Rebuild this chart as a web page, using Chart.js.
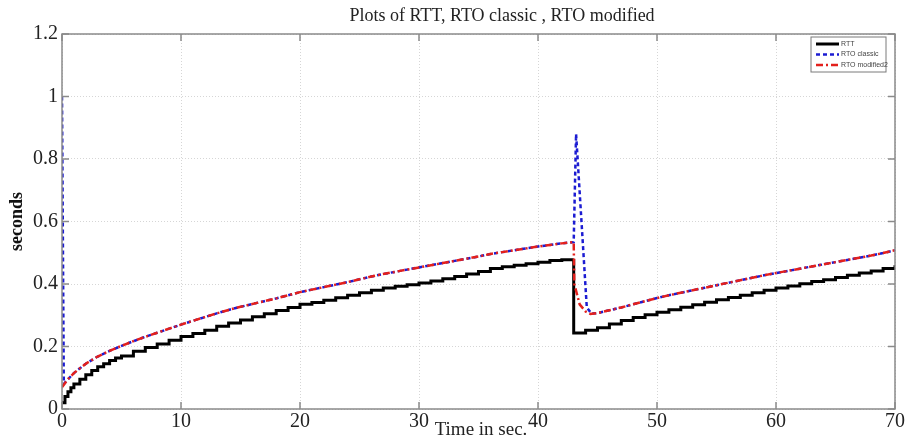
<!DOCTYPE html>
<html>
<head>
<meta charset="utf-8">
<title>RTT / RTO</title>
<script src="https://cdn.jsdelivr.net/npm/chart.js@4.4.1/dist/chart.umd.min.js"></script>
<style>
    html, body { margin: 0; padding: 0; background: #fff; }
    #zone { width: 908px; height: 442px; position: relative; }
</style>
</head>
<body>
<div id="zone"><canvas id="graphRto"></canvas></div>
<script>
// ==========================================
//  DONNÉES
// ==========================================
const tempsRtt = [0, 0.25, 0.5, 0.75, 1, 1.5, 2, 2.5, 3, 3.5, 4, 4.5, 5, 6, 7, 8, 9, 10, 11, 12,
    13, 14, 15, 16, 17, 18, 19, 20, 21, 22, 23, 24, 25, 26, 27, 28, 29, 30, 31, 32, 33, 34, 35, 36,
    37, 38, 39, 40, 41, 42, 43,
    43, 44, 45, 46, 47, 48, 49, 50, 51, 52, 53, 54, 55, 56, 57, 58, 59, 60, 61, 62, 63, 64, 65,
    66, 67, 68, 69, 70];
const rtt = [0.02, 0.04, 0.055, 0.068, 0.08, 0.095, 0.11, 0.123, 0.135, 0.145, 0.155, 0.163, 0.17,
    0.185, 0.197, 0.208, 0.22, 0.232, 0.242, 0.252, 0.265, 0.275, 0.285, 0.295, 0.305, 0.315, 0.325,
    0.335, 0.341, 0.348, 0.356, 0.364, 0.372, 0.38, 0.387, 0.393, 0.398, 0.403, 0.41, 0.417, 0.424,
    0.432, 0.44, 0.45, 0.455, 0.46, 0.465, 0.47, 0.475, 0.478, 0.48,
    0.243, 0.252, 0.26, 0.272, 0.283, 0.293, 0.302, 0.31, 0.318, 0.326, 0.334, 0.342, 0.35, 0.357,
    0.364, 0.372, 0.38, 0.387, 0.394, 0.401, 0.408, 0.414, 0.421, 0.428, 0.435, 0.442, 0.45, 0.46];

const tempsClassique = [0, 0.15, 0.5, 1, 2, 3, 4, 5, 6, 7, 8, 9, 10, 11, 12, 13, 14, 15, 16, 17,
    18, 19, 20, 21, 22, 23, 24, 25, 26, 27, 28, 29, 30, 31, 32, 33, 34, 35, 36, 37, 38, 39, 40, 41,
    42, 43, 43.2, 44.1, 44.5, 45, 46, 47, 48, 49, 50, 51, 52, 53, 54, 55, 56, 57, 58, 59, 60, 61,
    62, 63, 64, 65, 66, 67, 68, 69, 70];
const rtoClassique = [1.0, 0.08, 0.095, 0.115, 0.145, 0.168, 0.186, 0.202, 0.217, 0.231, 0.244,
    0.257, 0.27, 0.282, 0.294, 0.306, 0.317, 0.327, 0.336, 0.345, 0.354, 0.364, 0.374, 0.382, 0.39,
    0.398, 0.406, 0.415, 0.424, 0.432, 0.439, 0.446, 0.453, 0.46, 0.467, 0.474, 0.481, 0.488, 0.496,
    0.502, 0.508, 0.514, 0.52, 0.525, 0.53, 0.534, 0.88, 0.325, 0.305, 0.307, 0.316, 0.325, 0.335,
    0.345, 0.355, 0.364, 0.372, 0.38, 0.388, 0.396, 0.404, 0.412, 0.42, 0.428, 0.435, 0.442, 0.449,
    0.456, 0.463, 0.47, 0.477, 0.484, 0.491, 0.499, 0.508];

const tempsModifie = [0, 0.5, 1, 2, 3, 4, 5, 6, 7, 8, 9, 10, 11, 12, 13, 14, 15, 16, 17, 18, 19,
    20, 21, 22, 23, 24, 25, 26, 27, 28, 29, 30, 31, 32, 33, 34, 35, 36, 37, 38, 39, 40, 41, 42, 43,
    43.05, 43.5, 44, 44.4, 45, 46, 47, 48, 49, 50, 51, 52, 53, 54, 55, 56, 57, 58, 59, 60, 61, 62,
    63, 64, 65, 66, 67, 68, 69, 70];
const rtoModifie = [0.07, 0.095, 0.115, 0.145, 0.168, 0.186, 0.202, 0.217, 0.231, 0.244, 0.257,
    0.27, 0.282, 0.294, 0.306, 0.317, 0.327, 0.336, 0.345, 0.354, 0.364, 0.374, 0.382, 0.39, 0.398,
    0.406, 0.415, 0.424, 0.432, 0.439, 0.446, 0.453, 0.46, 0.467, 0.474, 0.481, 0.488, 0.496, 0.502,
    0.508, 0.514, 0.52, 0.525, 0.53, 0.534, 0.40, 0.335, 0.312, 0.304, 0.307, 0.316, 0.325, 0.335,
    0.345, 0.355, 0.364, 0.372, 0.38, 0.388, 0.396, 0.404, 0.412, 0.42, 0.428, 0.435, 0.442, 0.449,
    0.456, 0.463, 0.47, 0.477, 0.484, 0.491, 0.499, 0.508];

const graduationsX = [0, 10, 20, 30, 40, 50, 60, 70];
const graduationsY = [0, 0.2, 0.4, 0.6, 0.8, 1, 1.2];
const nomsSeries = ['RTT', 'RTO classic', 'RTO modified2'];

const enPoints = (xs, ys) => xs.map((t, i) => ({ x: t, y: ys[i] }));
const policeSerif = '"Liberation Serif", "DejaVu Serif", serif';

// ==========================================
//  CADRE, TITRES ET LÉGENDE (style MATLAB)
// ==========================================
const habillage = {
    id: 'habillage',
    afterDraw(chart) {
        const { ctx, chartArea: a, scales } = chart;
        ctx.save();

        // cadre complet + graduations vers l'intérieur
        ctx.strokeStyle = '#8a8a8a';
        ctx.lineWidth = 1.5;
        ctx.setLineDash([]);
        ctx.strokeRect(a.left, a.top, a.right - a.left, a.bottom - a.top);
        ctx.beginPath();
        graduationsX.forEach(v => {
            const px = scales.x.getPixelForValue(v);
            ctx.moveTo(px, a.bottom); ctx.lineTo(px, a.bottom - 7);
            ctx.moveTo(px, a.top); ctx.lineTo(px, a.top + 7);
        });
        graduationsY.forEach(v => {
            const py = scales.y.getPixelForValue(v);
            ctx.moveTo(a.left, py); ctx.lineTo(a.left + 7, py);
            ctx.moveTo(a.right, py); ctx.lineTo(a.right - 7, py);
        });
        ctx.stroke();

        // titre principal
        ctx.fillStyle = '#222';
        ctx.font = '18px ' + policeSerif;
        ctx.textAlign = 'center';
        ctx.textBaseline = 'middle';
        ctx.fillText('Plots of RTT, RTO classic , RTO modified', 502, 16);

        // titre de l'axe X (chevauche les étiquettes comme dans l'original)
        ctx.font = '19px ' + policeSerif;
        ctx.fillText('Time in sec.', 481, 430);

        // légende
        const lx = 811, ly = 37, lw = 75, lh = 35;
        ctx.fillStyle = '#fff';
        ctx.fillRect(lx, ly, lw, lh);
        ctx.strokeStyle = '#7a7a7a';
        ctx.lineWidth = 1;
        ctx.strokeRect(lx, ly, lw, lh);
        ctx.font = '7px "Liberation Sans", Arial, sans-serif';
        ctx.textAlign = 'left';
        chart.data.datasets.forEach((ds, i) => {
            const y = ly + 7 + i * 10.5;
            ctx.strokeStyle = ds.borderColor;
            ctx.lineWidth = ds.borderWidth;
            ctx.setLineDash(ds.borderDash || []);
            ctx.beginPath();
            ctx.moveTo(lx + 5, y); ctx.lineTo(lx + 28, y);
            ctx.stroke();
            ctx.fillStyle = '#444';
            ctx.fillText(ds.label, lx + 30, y);
        });
        ctx.restore();
    }
};

// ==========================================
//  GRAPHIQUE
// ==========================================
const ctx = document.getElementById('graphRto').getContext('2d');

new Chart(ctx, {
    type: 'line',
    data: {
        datasets: [
            {
                label: nomsSeries[0],
                data: enPoints(tempsRtt, rtt),
                borderColor: '#000000',
                borderWidth: 3,
                stepped: true,
                order: 2
            },
            {
                label: nomsSeries[1],
                data: enPoints(tempsClassique, rtoClassique),
                borderColor: '#1c1cd2',
                borderWidth: 2.5,
                borderDash: [4, 3],
                order: 1
            },
            {
                label: nomsSeries[2],
                data: enPoints(tempsModifie, rtoModifie),
                borderColor: '#e3201c',
                borderWidth: 2.5,
                borderDash: [7, 3, 2, 3],
                order: 0
            }
        ]
    },
    options: {
        responsive: true,
        maintainAspectRatio: false,
        animation: false,
        layout: { padding: { top: 34, right: 13, bottom: 0, left: 0 } },
        elements: { point: { radius: 0 }, line: { tension: 0, fill: false } },
        plugins: {
            legend: { display: false },
            tooltip: { enabled: false },
            title: { display: false }
        },
        scales: {
            x: {
                type: 'linear',
                min: 0,
                max: 70,
                afterBuildTicks: s => { s.ticks = graduationsX.map(v => ({ value: v })); },
                afterFit: s => { s.height = 33; },
                grid: { color: '#d6d6d6', lineWidth: 1, drawTicks: false },
                border: { display: false, dash: [1, 2] },
                ticks: { color: '#222', padding: 1, font: { family: policeSerif, size: 20 } }
            },
            y: {
                min: 0,
                max: 1.2,
                afterBuildTicks: s => { s.ticks = graduationsY.map(v => ({ value: v })); },
                afterFit: s => { s.width = 62; },
                grid: { color: '#d6d6d6', lineWidth: 1, drawTicks: false },
                border: { display: false, dash: [1, 2] },
                ticks: {
                    color: '#222',
                    padding: 4,
                    font: { family: policeSerif, size: 20 },
                    callback: v => String(v)
                },
                title: {
                    display: true,
                    text: 'seconds',
                    color: '#111',
                    padding: { top: 7, bottom: 0 },
                    font: { family: policeSerif, size: 18, weight: 'bold' }
                }
            }
        }
    },
    plugins: [habillage]
});
</script>
</body>
</html>
